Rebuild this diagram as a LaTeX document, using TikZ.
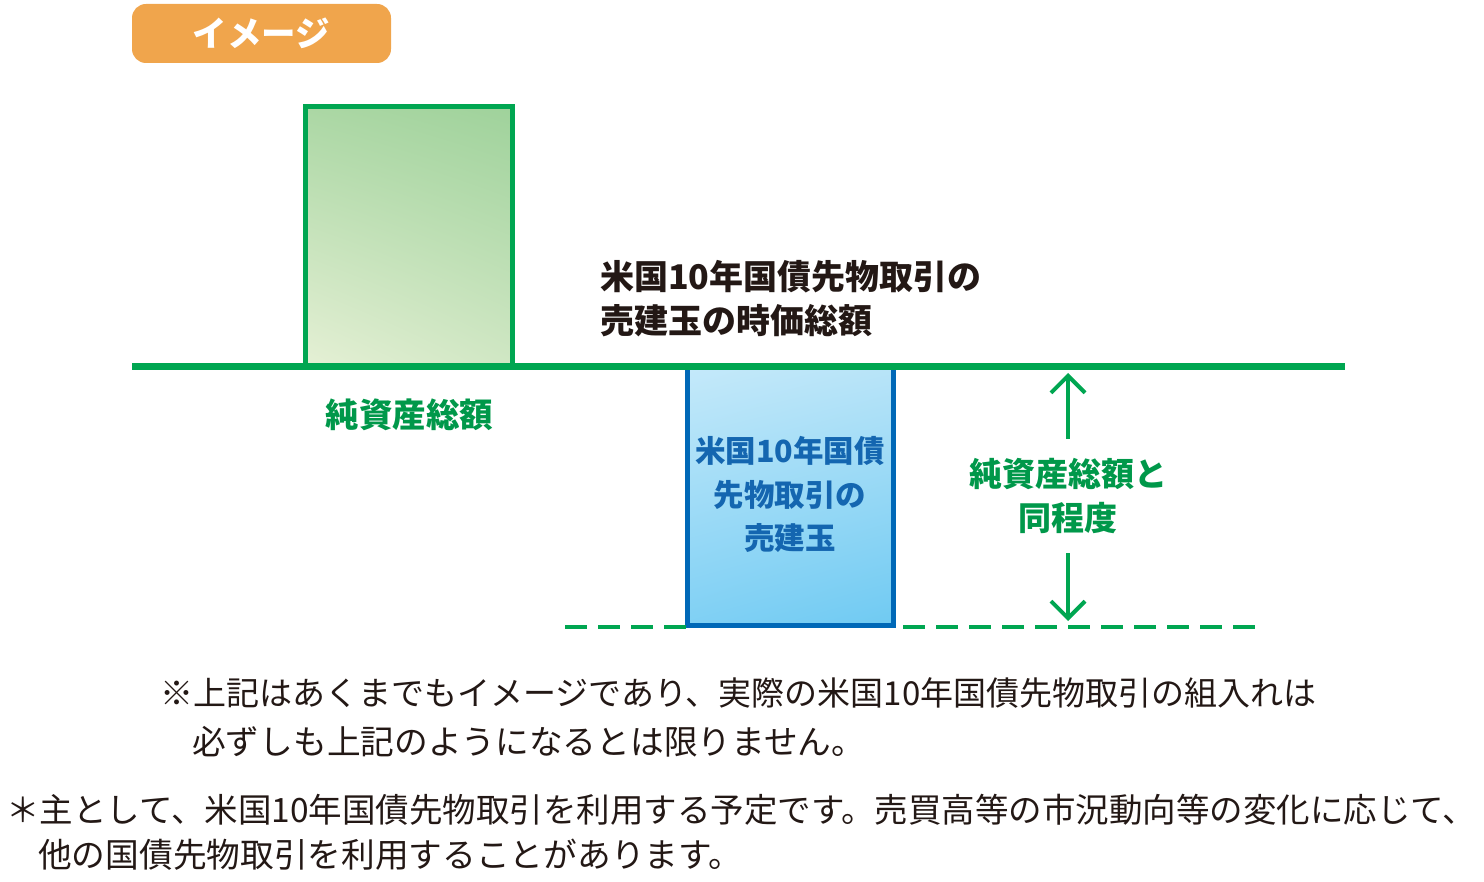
\documentclass[tikz,border=0pt]{standalone}
\usepackage{fontspec}
\setmainfont{Noto Sans CJK JP}
\usetikzlibrary{arrows.meta,shadings}
\definecolor{badge}{HTML}{F0A54C}
\definecolor{gline}{HTML}{00A651}
\definecolor{gtext}{HTML}{00984A}
\definecolor{bline}{HTML}{0068B7}
\definecolor{btext}{HTML}{1466B0}
\definecolor{ink}{HTML}{231815}
\definecolor{gLL}{HTML}{E5F0D5}
\definecolor{gUL}{HTML}{ABD7A4}
\definecolor{gUR}{HTML}{9FD29B}
\definecolor{gLR}{HTML}{D0E7C4}
\definecolor{bLL}{HTML}{7FD0F4}
\definecolor{bUL}{HTML}{C4E9FA}
\definecolor{bUR}{HTML}{B8E4F8}
\definecolor{bLR}{HTML}{6FCAF2}
\tikzset{
  lbl/.style={inner sep=0pt, font=\fontsize{33}{44}\selectfont\bfseries},
  note/.style={inner sep=0pt, anchor=west, text=ink, font=\fontsize{33}{44}\selectfont},
  noteb/.style={note, font=\fontsize{33.7}{44}\selectfont},
  barb/.style={draw=gline, line width=4pt, -{Straight Barb[length=17pt, width=34pt]}},
}
\begin{document}
\begin{tikzpicture}[x=1pt, y=-1pt]
\useasboundingbox (0,0) rectangle (1484,882);
% badge
\node[fill=badge, rounded corners=14pt, minimum width=259pt, minimum height=59pt, inner sep=0pt,
      text=white, font=\fontsize{34.5}{40}\selectfont\bfseries] (badge) at (261.5,33.5) {イメージ};
% green box (net assets)
\shade[lower left=gLL, upper left=gUL, upper right=gUR, lower right=gLR]
  (305.5,106.5) rectangle (512.5,366);
\draw[gline, line width=5pt] (305.5,366) -- (305.5,106.5) -- (512.5,106.5) -- (512.5,366);
% blue box (short position)
\shade[lower left=bLL, upper left=bUL, upper right=bUR, lower right=bLR]
  (687.5,368) rectangle (893.5,625.5);
\draw[bline, line width=5pt] (687.5,368) rectangle (893.5,625.5);
% baseline
\draw[gline, line width=7pt] (132,366.5) -- (1345,366.5);
% dashed lines
\draw[gline, line width=4pt, dash pattern=on 22pt off 11pt] (565,627) -- (686,627);
\draw[gline, line width=4pt, dash pattern=on 22pt off 11pt] (903,627) -- (1260,627);
% labels
\node[inner sep=0pt, font=\fontsize{34}{44}\selectfont\bfseries, text=ink, anchor=west, align=left] (mv) at (600,299) {米国10年国債先物取引の\\売建玉の時価総額};
\node[lbl, text=gtext, font=\fontsize{33.5}{44}\selectfont\bfseries] (na) at (409.5,415) {純資産総額};
\node[inner sep=0pt, text=btext, align=center, font=\fontsize{30.5}{43.5}\selectfont\bfseries] (sp) at (790,494.5)
  {米国10年国債\\先物取引の\\売建玉};
\node[lbl, text=gtext, align=center] (same) at (1068,496) {純資産総額と\\同程度};
% arrows
\coordinate (upTip) at (1068,373);
\coordinate (dnTip) at (1068,621);
\draw[barb] (1068,439) -- (upTip);
\draw[barb] (1068,553) -- (dnTip);
% notes
\node[note] (n1) at (160,693) {※上記はあくまでもイメージであり、実際の米国10年国債先物取引の組入れは};
\node[noteb] (n2) at (192,742) {必ずしも上記のようになるとは限りません。};
\node[note, font=\fontsize{33.5}{44}\selectfont] (n3) at (6,810) {＊主として、米国10年国債先物取引を利用する予定です。売買高等の市況動向等の変化に応じて、};
\node[noteb] (n4) at (38,855) {他の国債先物取引を利用することがあります。};
\end{tikzpicture}
\end{document}
